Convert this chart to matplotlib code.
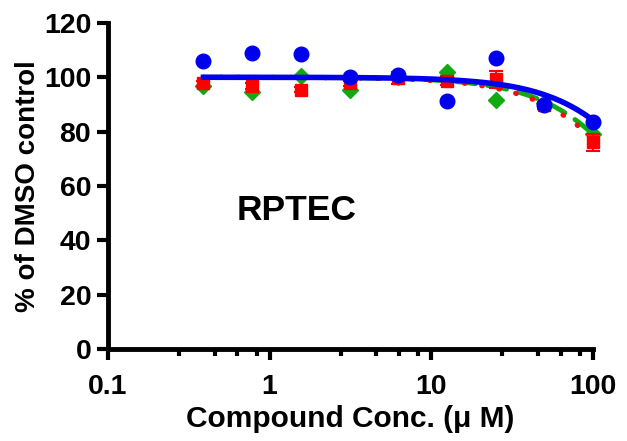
import numpy as np
import matplotlib.pyplot as plt
from matplotlib.ticker import FixedLocator, FixedFormatter

plt.rcParams["font.family"] = ["Liberation Sans", "DejaVu Sans"]
plt.rcParams["font.weight"] = "bold"

# concentrations (uM), 2-fold dilution series
conc = [0.39, 0.78, 1.56, 3.125, 6.25, 12.5, 25, 50, 100]

blue_y = [105.8, 109.0, 108.4, 100.2, 101.0, 91.4, 107.2, 89.8, 83.4]
red_y = [97.8, 96.8, 95.4, 97.8, 99.6, 98.8, 99.2, 89.6, 76.0]
red_err = [1.0, 1.0, 1.0, 1.0, 2.2, 1.5, 3.0, 1.2, 3.2]
green_y = [96.8, 94.6, 100.4, 95.4, 100.0, 102.0, 91.8, 90.6, 79.0]

# fitted curve parameters (top, IC50, hill) per series
blue_fit = (100.0, 316.0, 1.45)
green_fit = (100.0, 252.0, 1.43)
red_fit = (100.0, 240.0, 1.40)

x_major = [0.1, 1, 10, 100]
x_major_labels = ["0.1", "1", "10", "100"]
minor_frac = [2.75, 4.57, 6.3, 8.3]
y_ticks = [0, 20, 40, 60, 80, 100, 120]


def curve(x, p):
    top, ic50, h = p
    return top / (1 + (x / ic50) ** h)


fig = plt.figure(figsize=(6.27, 4.41), dpi=100)
ax = fig.add_axes([0.172, 0.209, 0.774, 0.739])
ax.set_xscale("log")
ax.set_xlim(0.1, 100)
ax.set_ylim(0, 120)

xs = np.logspace(np.log10(conc[0]), np.log10(conc[-1]), 200)
ax.plot(xs, curve(xs, green_fit), color="#11aa11", lw=3.5, ls=(0, (4, 2.5)),
        dash_capstyle="round", zorder=2)
ax.plot(xs, curve(xs, red_fit), color="#ee1111", lw=3.8, ls=(0, (0.1, 3.2)),
        dash_capstyle="round", zorder=2)
ax.plot(xs, curve(xs, blue_fit), color="#0000ee", lw=4, zorder=4)

ax.errorbar(conc, red_y, yerr=red_err, fmt="s", color="#ff0000", ms=9,
            capsize=5, elinewidth=1.5, capthick=1.5, clip_on=False, zorder=3)
ax.plot(conc, green_y, "D", color="#11aa11", ms=8, clip_on=False, zorder=2.5)
ax.plot(conc, blue_y, "o", color="#0000ee", ms=10.5, clip_on=False, zorder=5)

ax.text(0.625, 51, "RPTEC", fontsize=25.5, fontweight="bold", va="center")

ax.xaxis.set_major_locator(FixedLocator(x_major))
ax.xaxis.set_major_formatter(FixedFormatter(x_major_labels))
minors = [d * f for d in [0.1, 1, 10] for f in minor_frac]
ax.xaxis.set_minor_locator(FixedLocator(minors))
ax.xaxis.set_minor_formatter(FixedFormatter([]))
ax.set_yticks(y_ticks)

for s in ["top", "right"]:
    ax.spines[s].set_visible(False)
for s in ["left", "bottom"]:
    ax.spines[s].set_linewidth(3.5)
ax.tick_params(which="major", length=8, width=3, labelsize=20.5, pad=4)
ax.tick_params(which="minor", length=5, width=3)
ax.tick_params(axis="x", pad=10)

ax.set_xlabel("Compound Conc. (\u03bc M)", fontsize=21.5, fontweight="bold", labelpad=4)
ax.set_ylabel("% of DMSO control", fontsize=20, fontweight="bold", labelpad=2)

fig.savefig("out.png", dpi=100)
